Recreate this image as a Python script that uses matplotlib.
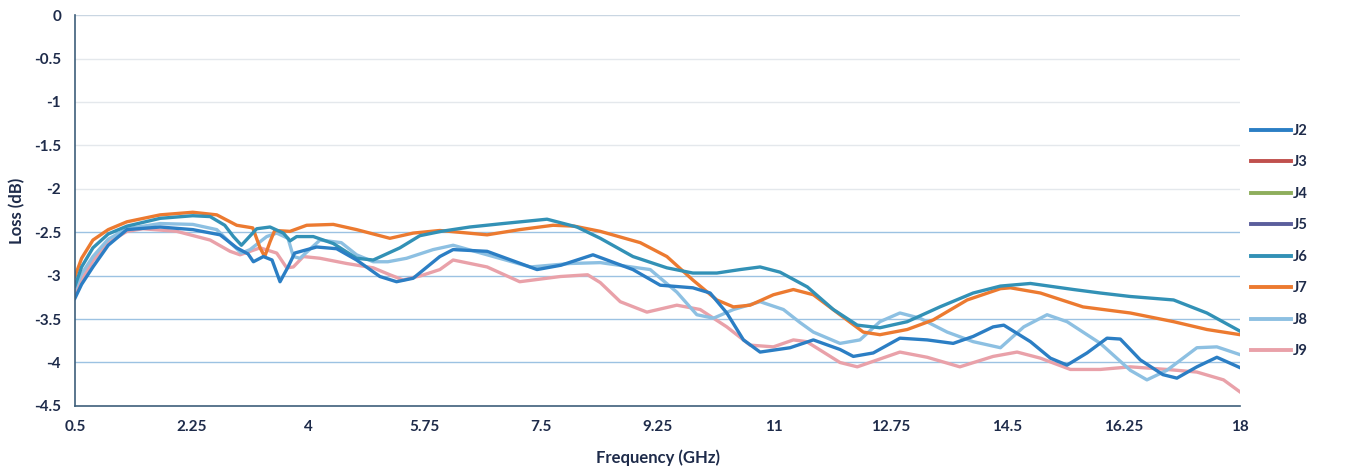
import matplotlib
matplotlib.use("Agg")
import matplotlib.pyplot as plt

# Datos (frecuencia en GHz, perdida en dB)
x_j6 = [0.5, 0.6, 0.77, 1.0, 1.28, 1.78, 2.27, 2.53, 2.75, 2.88, 3.0, 3.23, 3.43, 3.63, 3.73, 3.83,
        4.08, 4.38, 4.73, 4.98, 5.38, 5.68, 6.0, 6.43, 6.93, 7.59, 8.04, 8.39, 8.88, 9.39, 9.78,
        10.14, 10.49, 10.79, 11.09, 11.5, 11.89, 12.25, 12.59, 13.0, 13.49, 13.99, 14.4, 14.85,
        15.5, 15.9, 16.35, 17.0, 17.5, 18.0]
y_j6 = [-3.12, -2.9, -2.68, -2.52, -2.43, -2.34, -2.31, -2.32, -2.42, -2.55, -2.65, -2.46, -2.44,
        -2.51, -2.6, -2.55, -2.55, -2.63, -2.8, -2.82, -2.68, -2.54, -2.49, -2.44, -2.4, -2.35,
        -2.44, -2.57, -2.78, -2.91, -2.97, -2.97, -2.93, -2.9, -2.96, -3.13, -3.39, -3.57, -3.6,
        -3.53, -3.36, -3.2, -3.12, -3.09, -3.16, -3.2, -3.24, -3.28, -3.43, -3.64]

x_j7 = [0.5, 0.6, 0.77, 1.0, 1.28, 1.78, 2.27, 2.63, 2.93, 3.17, 3.28, 3.35, 3.43, 3.5, 3.73, 3.98,
        4.38, 4.73, 5.23, 5.58, 5.98, 6.69, 7.18, 7.68, 8.0, 8.39, 8.99, 9.39, 9.78, 10.14, 10.39,
        10.64, 10.99, 11.29, 11.59, 11.99, 12.34, 12.59, 13.0, 13.39, 13.9, 14.4, 14.55, 15.0,
        15.64, 16.35, 17.0, 17.5, 18.0]
y_j7 = [-3.01, -2.8, -2.59, -2.47, -2.38, -2.3, -2.27, -2.3, -2.42, -2.45, -2.68, -2.78, -2.61,
        -2.48, -2.49, -2.42, -2.41, -2.47, -2.57, -2.51, -2.48, -2.53, -2.47, -2.42, -2.43, -2.49,
        -2.62, -2.78, -3.05, -3.28, -3.36, -3.34, -3.22, -3.16, -3.22, -3.45, -3.65, -3.68, -3.62,
        -3.51, -3.28, -3.15, -3.14, -3.2, -3.36, -3.43, -3.53, -3.62, -3.68]

x_j2 = [0.5, 0.6, 0.77, 1.0, 1.28, 1.78, 2.27, 2.68, 2.93, 3.1, 3.18, 3.33, 3.46, 3.58, 3.7, 3.8,
        4.13, 4.43, 4.73, 5.08, 5.33, 5.58, 5.98, 6.18, 6.69, 7.44, 7.8, 8.28, 8.88, 9.29, 9.78,
        10.04, 10.29, 10.54, 10.79, 11.24, 11.59, 11.99, 12.19, 12.49, 12.89, 13.3, 13.69, 13.99,
        14.29, 14.45, 14.85, 15.15, 15.4, 15.7, 16.0, 16.2, 16.5, 16.84, 17.05, 17.35, 17.65, 18.0]
y_j2 = [-3.26, -3.1, -2.9, -2.65, -2.47, -2.44, -2.47, -2.53, -2.68, -2.75, -2.84, -2.78, -2.82,
        -3.07, -2.9, -2.74, -2.67, -2.69, -2.82, -3.01, -3.07, -3.03, -2.78, -2.7, -2.72, -2.93,
        -2.88, -2.76, -2.93, -3.11, -3.14, -3.2, -3.43, -3.74, -3.88, -3.83, -3.74, -3.85, -3.93,
        -3.89, -3.72, -3.74, -3.78, -3.7, -3.59, -3.57, -3.76, -3.95, -4.03, -3.89, -3.72, -3.73,
        -3.97, -4.14, -4.18, -4.05, -3.94, -4.06]

x_j8 = [0.5, 0.6, 0.77, 1.0, 1.28, 1.78, 2.27, 2.63, 2.83, 3.0, 3.13, 3.38, 3.53, 3.7, 3.78, 3.88,
        4.18, 4.5, 4.73, 4.98, 5.2, 5.48, 5.88, 6.18, 6.69, 7.34, 7.94, 8.39, 9.14, 9.54, 9.84,
        10.09, 10.39, 10.79, 11.14, 11.39, 11.59, 11.99, 12.29, 12.59, 12.89, 13.19, 13.6, 13.99,
        14.4, 14.75, 15.1, 15.4, 15.9, 16.35, 16.6, 16.9, 17.35, 17.65, 18.0]
y_j8 = [-3.15, -2.98, -2.78, -2.58, -2.46, -2.4, -2.41, -2.47, -2.62, -2.74, -2.7, -2.55, -2.51,
        -2.57, -2.78, -2.8, -2.59, -2.62, -2.76, -2.84, -2.84, -2.8, -2.7, -2.65, -2.76, -2.9,
        -2.86, -2.85, -2.93, -3.19, -3.45, -3.49, -3.39, -3.3, -3.39, -3.54, -3.65, -3.78, -3.74,
        -3.53, -3.43, -3.49, -3.65, -3.76, -3.83, -3.59, -3.45, -3.53, -3.78, -4.09, -4.2, -4.09,
        -3.83, -3.82, -3.91]

x_j9 = [0.5, 0.6, 0.77, 1.0, 1.28, 1.52, 2.03, 2.53, 2.83, 2.98, 3.28, 3.53, 3.68, 3.78, 3.93, 4.18,
        4.58, 4.98, 5.23, 5.43, 5.7, 5.98, 6.18, 6.69, 7.18, 7.79, 8.2, 8.39, 8.69, 9.09, 9.54,
        9.89, 10.29, 10.64, 10.99, 11.29, 11.49, 11.99, 12.25, 12.89, 13.3, 13.79, 14.29, 14.65,
        15.0, 15.45, 15.9, 16.35, 16.9, 17.35, 17.75, 18.0]
y_j9 = [-3.22, -3.05, -2.83, -2.62, -2.49, -2.46, -2.49, -2.59, -2.72, -2.76, -2.68, -2.74, -2.91,
        -2.9, -2.78, -2.8, -2.86, -2.91, -2.99, -3.05, -3.0, -2.93, -2.82, -2.9, -3.07, -3.01,
        -2.99, -3.08, -3.3, -3.42, -3.34, -3.39, -3.59, -3.8, -3.82, -3.74, -3.76, -4.0, -4.05,
        -3.88, -3.94, -4.05, -3.93, -3.88, -3.95, -4.08, -4.08, -4.05, -4.08, -4.11, -4.2, -4.34]

x_ticks = [0.5, 2.25, 4, 5.75, 7.5, 9.25, 11, 12.75, 14.5, 16.25, 18]
x_tick_labels = ["0.5", "2.25", "4", "5.75", "7.5", "9.25", "11", "12.75", "14.5", "16.25", "18"]
y_ticks = [0, -0.5, -1, -1.5, -2, -2.5, -3, -3.5, -4, -4.5]
y_tick_labels = ["0", "-0.5", "-1", "-1.5", "-2", "-2.5", "-3", "-3.5", "-4", "-4.5"]

colores = {
    "J2": "#2B7EC4", "J3": "#C0504D", "J4": "#8EAE5C", "J5": "#5B5E9C",
    "J6": "#3291B6", "J7": "#EC7A30", "J8": "#8DC0E2", "J9": "#E9A1A9",
}
texto = "#1E2B4A"

fig = plt.figure(figsize=(13.48, 4.72), dpi=100)
ax = fig.add_axes([0.0556, 0.140, 0.8644, 0.828])

lw = 2.4
# J3, J4 y J5 solo aparecen en la leyenda
for nombre in ["J2", "J3", "J4", "J5", "J6", "J7", "J8", "J9"]:
    ax.plot([], [], color=colores[nombre], lw=2.8, label=nombre)

ax.plot(x_j9, y_j9, color=colores["J9"], lw=lw, solid_joinstyle="round")
ax.plot(x_j8, y_j8, color=colores["J8"], lw=lw, solid_joinstyle="round")
ax.plot(x_j7, y_j7, color=colores["J7"], lw=lw, solid_joinstyle="round")
ax.plot(x_j6, y_j6, color=colores["J6"], lw=lw, solid_joinstyle="round")
ax.plot(x_j2, y_j2, color=colores["J2"], lw=lw, solid_joinstyle="round")

ax.set_xlim(0.5, 18)
ax.set_ylim(-4.5, 0)
ax.set_xticks(x_ticks)
ax.set_xticklabels(x_tick_labels)
ax.set_yticks(y_ticks)
ax.set_yticklabels(y_tick_labels)

# Rejilla horizontal: clara arriba, azul abajo
for v in y_ticks[1:-1]:
    c = "#E4E8EC" if v > -2.25 else "#9CC2E2"
    ax.axhline(v, color=c, lw=1.0, zorder=0)
ax.axhline(0, color="#C9D6E2", lw=1.0, zorder=0)

for s in ["top", "right"]:
    ax.spines[s].set_visible(False)
ax.spines["left"].set_color("#3E5F7A")
ax.spines["bottom"].set_color("#3E5F7A")
ax.spines["left"].set_linewidth(1.2)
ax.spines["bottom"].set_linewidth(1.2)
ax.tick_params(length=0, pad=10, labelsize=11, colors=texto)
for t in ax.get_xticklabels() + ax.get_yticklabels():
    t.set_fontfamily("Lato")
    t.set_fontweight("bold")

ax.set_xlabel("Frequency (GHz)", fontsize=12, fontweight="bold", color=texto,
              fontfamily="Lato", labelpad=11)
ax.set_ylabel("Loss (dB)", fontsize=12, fontweight="bold", color=texto,
              fontfamily="Lato", labelpad=6)

leg = fig.legend(loc="center left", bbox_to_anchor=(0.918, 0.489), frameon=False,
                 handlelength=2.8, handletextpad=0.1, labelspacing=1.2,
                 prop={"family": "Lato", "weight": "bold", "size": 10.5})
for t in leg.get_texts():
    t.set_color(texto)

plt.savefig("out.png", dpi=100)
plt.close()
